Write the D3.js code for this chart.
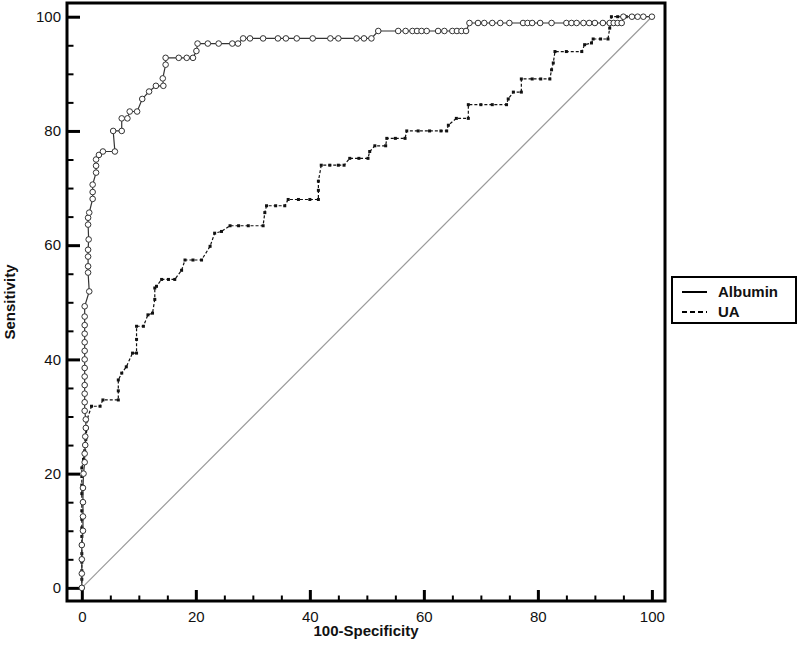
<!DOCTYPE html>
<html>
<head>
<meta charset="utf-8">
<script src="https://cdn.jsdelivr.net/npm/d3@7"></script>
<style>
    body { margin: 0; background: #fff; }
    text { font-family: "Liberation Sans", Arial, sans-serif; fill: #111; }
</style>
</head>
<body>
<div id="rocChart"></div>
<script>
// Albumin ROC points [100-Specificity, Sensitivity]
var albumin = [
    [0,0],[0,2.5],[0,5],[0,7.5],[0.2,10],[0.2,12.5],[0.2,15],[0.2,17.5],[0.3,20],
    [0.5,22],[0.5,23.5],[0.6,25],[0.6,26.5],[0.7,28],[0.7,29.5],[0.5,31],[0.5,32.5],
    [0.5,34],[0.5,35.5],[0.5,37],[0.5,38.5],[0.5,40],[0.5,41.5],[0.5,43],[0.5,44.5],
    [0.5,46],[0.5,47.5],[0.5,49.3],[1.3,51.9],[1.1,55.2],[1.1,56.3],[1.1,58],[1.1,59.2],
    [1.2,61],[1.1,63.6],[1.1,64.8],[1.3,65.7],[1.9,68.1],[1.9,69.3],[1.9,70.6],[2.5,72.7],
    [2.5,73.9],[2.5,75],[3,75.8],[3.7,76.4],[5.8,76.4],[5.5,80],[7,80],[7,82.2],[8,82.2],
    [8.4,83.4],[9.7,83.4],[10.6,85.6],[11.8,86.9],[13,87.9],[14.3,87.9],[14.2,89.2],
    [14.7,91.6],[14.7,92.8],[17,92.8],[18.4,92.8],[19.5,92.8],[20.1,94],[20.3,95.3],
    [22.1,95.3],[24,95.3],[26.4,95.3],[27.4,95.3],[28.3,96.2],[29.5,96.2],[31.8,96.2],
    [34.4,96.2],[35.8,96.2],[37.7,96.2],[40.5,96.2],[43.6,96.2],[45,96.2],[48.2,96.2],
    [49.5,96.2],[50.8,96.2],[52,97.5],[55.5,97.5],[56.8,97.5],[58,97.5],[58.8,97.5],
    [59.6,97.5],[60.5,97.5],[62.5,97.5],[63.6,97.5],[65,97.5],[65.8,97.5],[66.6,97.5],
    [67.4,97.5],[68,98.9],[69.5,98.9],[70.6,98.9],[72,98.9],[73.4,98.9],[75,98.9],
    [77.4,98.9],[78.2,98.9],[79,98.9],[80.4,98.9],[82.4,98.9],[85,98.9],[85.9,98.9],
    [86.8,98.9],[88,98.9],[89,98.9],[90,98.9],[91.4,98.9],[92.6,98.9],[93.3,98.9],
    [94,98.9],[94.7,98.9],[95,100],[96.5,100],[97.5,100],[98.5,100],[100,100]
];

// UA ROC points [100-Specificity, Sensitivity]
var ua = [
    [0,0],[0,1.5],[0,3],[0,4.5],[0,6],[0,7.5],[0,9],[0,10.5],[0,12],[0,13.5],[0,15],
    [0,16.5],[0,18],[0,19.5],[0,21],[0.3,22.5],[0.5,24],[0.7,26],[0.9,28],[0.9,29.4],
    [1.7,31.8],[3.2,31.8],[3.7,32.9],[6.4,32.9],[6.4,34.5],[6.4,36.4],[7,37.6],[7.8,38.7],
    [8.9,41.1],[9.6,41.1],[9.6,43.5],[9.6,45.8],[10.8,45.8],[11.6,47.8],[12.4,48.1],
    [12.8,50.5],[12.8,52.5],[13.1,52.8],[14,54],[15.2,54],[16.3,54],[17.5,55.6],
    [18.1,57.4],[19.5,57.4],[21,57.4],[22.5,59.8],[23.3,62.1],[24.5,62.4],[26,63.4],
    [27.5,63.4],[29.2,63.4],[31.8,63.4],[32.1,65.7],[32.4,66.9],[34,66.9],[35.6,66.9],
    [36.2,68],[38,68],[40,68],[41.5,68],[41.5,69.6],[41.5,71.2],[42,74],[43.5,74],
    [45,74],[46,74],[47,75.2],[48.6,75.2],[50.2,75.2],[50.5,76.4],[51.4,77.4],[53.3,77.4],
    [53.5,78.7],[55,78.7],[56.7,78.7],[57,80],[59,80],[61,80],[63,80],[64,80],[64.3,81],
    [65.7,82.2],[67.8,82.2],[67.8,84.6],[70,84.6],[72,84.6],[74.5,84.6],[74.8,85.6],
    [75.7,86.8],[77.1,86.8],[77.1,89.1],[79,89.1],[80.5,89.1],[82.1,89.1],[82.4,90.7],
    [82.7,91.9],[83,93.9],[85,93.9],[87.7,93.9],[88.2,95.1],[89.4,95.4],[89.7,96.1],
    [91,96.1],[92.3,96.1],[92.6,98],[92.9,100],[94,100],[95.5,100],[97,100],[98.5,100],
    [100,100]
];

var majorTicks = [0, 20, 40, 60, 80, 100];
var minorTicks = [5, 10, 15, 25, 30, 35, 45, 50, 55, 65, 70, 75, 85, 90, 95];
var seriesNames = ["Albumin", "UA"];

function drawChart() {
    var width = 800,
        height = 651,
        plotLeft = 67, plotRight = 665, plotTop = 3, plotBottom = 601;

    var svg = d3.select("#rocChart")
        .append("svg")
        .attr("width", width)
        .attr("height", height);

    var x = d3.scaleLinear().domain([-2.6, 102.3]).range([plotLeft, plotRight]);
    var y = d3.scaleLinear().domain([-2.3, 102.4]).range([plotBottom, plotTop]);

    // diagonal reference line
    svg.append("line")
        .attr("x1", x(0)).attr("y1", y(0))
        .attr("x2", x(100)).attr("y2", y(100))
        .attr("stroke", "#9a9a9a")
        .attr("stroke-width", 1.2);

    // minor ticks
    svg.append("g")
        .attr("transform", "translate(0," + plotBottom + ")")
        .call(d3.axisBottom(x).tickValues(minorTicks).tickSize(-5.5).tickFormat(""))
        .call(function (g) { g.select(".domain").remove(); })
        .selectAll("line").attr("stroke", "#000").attr("stroke-width", 2);

    svg.append("g")
        .attr("transform", "translate(" + plotLeft + ",0)")
        .call(d3.axisLeft(y).tickValues(minorTicks).tickSize(-6.5).tickFormat(""))
        .call(function (g) { g.select(".domain").remove(); })
        .selectAll("line").attr("stroke", "#000").attr("stroke-width", 2);

    // major ticks with labels
    var xAxis = svg.append("g")
        .attr("transform", "translate(0," + plotBottom + ")")
        .call(d3.axisBottom(x).tickValues(majorTicks).tickSize(-11).tickPadding(10));
    xAxis.select(".domain").remove();
    xAxis.selectAll("line").attr("stroke", "#000").attr("stroke-width", 3);
    xAxis.selectAll("text").style("font-size", "15px").attr("fill", "#222");

    var yAxis = svg.append("g")
        .attr("transform", "translate(" + plotLeft + ",0)")
        .call(d3.axisLeft(y).tickValues(majorTicks).tickSize(-13).tickPadding(6));
    yAxis.select(".domain").remove();
    yAxis.selectAll("line").attr("stroke", "#000").attr("stroke-width", 3);
    yAxis.selectAll("text").style("font-size", "15px").attr("fill", "#222");

    // frame
    svg.append("rect")
        .attr("x", plotLeft).attr("y", plotTop)
        .attr("width", plotRight - plotLeft).attr("height", plotBottom - plotTop)
        .attr("fill", "none")
        .attr("stroke", "#000")
        .attr("stroke-width", 3);

    var line = d3.line()
        .x(function (d) { return x(d[0]); })
        .y(function (d) { return y(d[1]); });

    // UA: dashed line, small filled markers
    svg.append("path")
        .datum(ua)
        .attr("d", line)
        .attr("fill", "none")
        .attr("stroke", "#111")
        .attr("stroke-width", 1.2)
        .attr("stroke-dasharray", "3,2");

    svg.selectAll(".ua-pt")
        .data(ua)
        .enter().append("rect")
        .attr("class", "ua-pt")
        .attr("x", function (d) { return x(d[0]) - 1.5; })
        .attr("y", function (d) { return y(d[1]) - 1.5; })
        .attr("width", 3)
        .attr("height", 3)
        .attr("fill", "#111");

    // Albumin: solid line, open circles
    svg.append("path")
        .datum(albumin)
        .attr("d", line)
        .attr("fill", "none")
        .attr("stroke", "#333")
        .attr("stroke-width", 1.2);

    svg.selectAll(".alb-pt")
        .data(albumin)
        .enter().append("circle")
        .attr("class", "alb-pt")
        .attr("cx", function (d) { return x(d[0]); })
        .attr("cy", function (d) { return y(d[1]); })
        .attr("r", 2.8)
        .attr("fill", "#fff")
        .attr("stroke", "#333")
        .attr("stroke-width", 1);

    // axis titles
    svg.append("text")
        .attr("x", (plotLeft + plotRight) / 2)
        .attr("y", 636)
        .attr("text-anchor", "middle")
        .style("font-size", "15px")
        .style("font-weight", "bold")
        .text("100-Specificity");

    svg.append("text")
        .attr("transform", "translate(15,302) rotate(-90)")
        .attr("text-anchor", "middle")
        .style("font-size", "15px")
        .style("font-weight", "bold")
        .text("Sensitivity");

    // legend
    var legend = svg.append("g");
    legend.append("rect")
        .attr("x", 672).attr("y", 277)
        .attr("width", 124).attr("height", 46)
        .attr("fill", "#fff")
        .attr("stroke", "#000")
        .attr("stroke-width", 2);

    seriesNames.forEach(function (name, i) {
        var ly = 292 + i * 20;
        legend.append("line")
            .attr("x1", 682).attr("x2", 707)
            .attr("y1", ly).attr("y2", ly)
            .attr("stroke", "#000")
            .attr("stroke-width", 2)
            .attr("stroke-dasharray", i === 1 ? "5,3" : null);
        legend.append("text")
            .attr("x", 718)
            .attr("y", ly + 5)
            .style("font-size", "15px")
            .style("font-weight", "bold")
            .text(name);
    });
}

drawChart();
</script>
</body>
</html>
